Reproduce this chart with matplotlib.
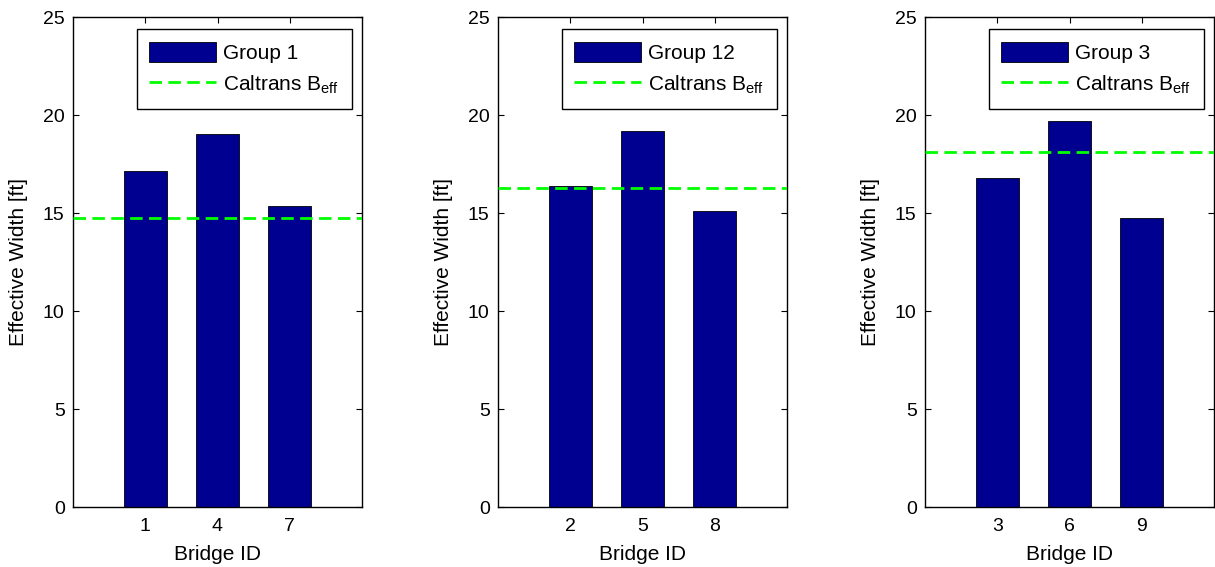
import matplotlib
matplotlib.use("Agg")
from matplotlib import pyplot as plt

# data
group_names = ["Group 1", "Group 12", "Group 3"]
bridge_ids = [["1", "4", "7"], ["2", "5", "8"], ["3", "6", "9"]]
eff_widths = [
    [17.13, 19.01, 15.34],
    [16.38, 19.17, 15.10],
    [16.77, 19.68, 14.73],
]
caltrans_beff = [14.73, 16.28, 18.13]

plt.rcParams["font.family"] = ["Liberation Sans", "DejaVu Sans"]
plt.rcParams["mathtext.fontset"] = "custom"
plt.rcParams["mathtext.rm"] = "Liberation Sans"
plt.rcParams["mathtext.it"] = "Liberation Sans"
plt.rcParams["font.size"] = 15

fig = plt.figure(figsize=(12.15, 5.67), dpi=100)
W, H = 1215.0, 567.0
lefts = [73, 498, 925]

for k, left in enumerate(lefts):
    ax = fig.add_axes([left / W, (H - 507) / H, 289 / W, 490 / H])
    xs = list(range(1, len(eff_widths[k]) + 1))
    bars = ax.bar(xs, eff_widths[k], width=0.6, color="#000090", edgecolor="black",
                  linewidth=0.6, label=group_names[k], zorder=2)
    line = ax.axhline(caltrans_beff[k], color="#00ff00", linestyle="--", linewidth=2.0,
                      dashes=(4.5, 2.3), label="Caltrans B$_{\\mathrm{eff}}$", zorder=3)
    ax.set_xlim(0, 4)
    ax.set_ylim(0, 25)
    ax.set_xticks(xs)
    ax.set_xticklabels(bridge_ids[k])
    ax.set_yticks([0, 5, 10, 15, 20, 25])
    ax.tick_params(direction="in", top=True, right=True, length=4, width=0.8,
                   labelsize=14)
    ax.tick_params(axis="x", pad=8)
    ax.tick_params(axis="y", pad=6)
    for sp in ax.spines.values():
        sp.set_linewidth(1.0)
    ax.set_xlabel("Bridge ID", fontsize=15, labelpad=7)
    ax.set_ylabel("Effective Width [ft]", fontsize=15, labelpad=11)
    leg = ax.legend([bars, line], [group_names[k], "Caltrans B$_{\\mathrm{eff}}$"],
                    loc="upper right", bbox_to_anchor=(0.965, 0.975),
                    borderaxespad=0, fancybox=False, framealpha=1,
                    edgecolor="black", fontsize=15, handlelength=3.2,
                    handleheight=1.15, handletextpad=0.35, borderpad=0.6,
                    labelspacing=0.5)
    leg.get_frame().set_linewidth(1.0)

fig.savefig("out.png", dpi=100)
